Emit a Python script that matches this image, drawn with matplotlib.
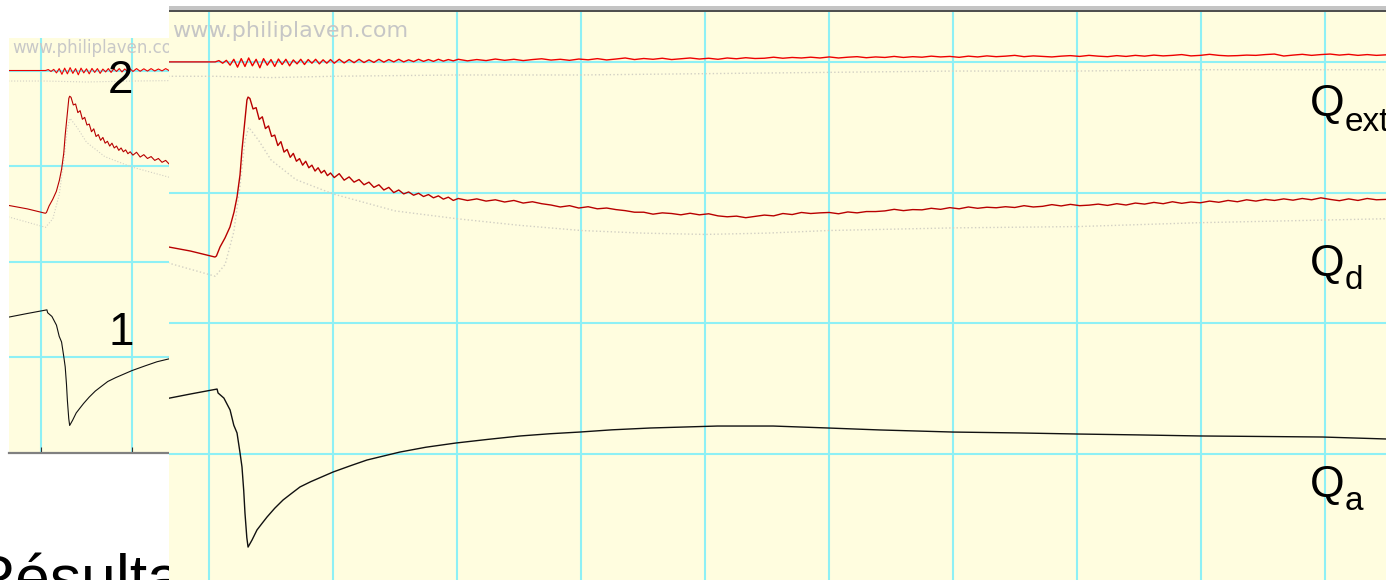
import numpy as np
import matplotlib.pyplot as plt
from matplotlib.patches import Rectangle

plt.rcParams['font.family'] = ['Liberation Sans', 'DejaVu Sans']

# Time axis and signal axis are both in screen divisions
# Q_a (black) trace
qa_x = [-0.36, -0.15, 0.065, 0.073, 0.12, 0.17, 0.20, 0.226, 0.25, 0.266, 0.28,
        0.29, 0.305, 0.315, 0.347, 0.387, 0.43, 0.468, 0.53, 0.597, 0.665, 0.734,
        0.82, 0.91, 1.0, 1.14, 1.274, 1.40, 1.54, 1.75, 1.99, 2.25, 2.51, 2.75,
        2.99, 3.25, 3.56, 3.85, 4.10, 4.55, 4.99, 5.41, 6.0, 6.54, 7.0, 7.5,
        7.99, 8.5, 8.98, 9.49]
qa_y = [0.42, 0.459, 0.497, 0.467, 0.428, 0.337, 0.22, 0.161, 0.01, -0.099, -0.28,
        -0.451, -0.64, -0.712, -0.658, -0.581, -0.528, -0.482, -0.415, -0.352,
        -0.302, -0.252, -0.212, -0.175, -0.138, -0.090, -0.046, -0.017, 0.015,
        0.052, 0.084, 0.112, 0.138, 0.155, 0.168, 0.185, 0.199, 0.207, 0.214,
        0.214, 0.199, 0.184, 0.168, 0.161, 0.153, 0.146, 0.138, 0.134, 0.130, 0.115]

# Q_d (dark red): baseline and rise up to the peak
qd_rise_x = [-0.36, -0.15, 0.048, 0.06, 0.089, 0.129, 0.169, 0.202, 0.226, 0.25,
             0.266, 0.290, 0.306, 0.315]
qd_rise_y = [1.59, 1.553, 1.507, 1.515, 1.584, 1.653, 1.737, 1.852, 1.966, 2.135,
             2.326, 2.556, 2.709, 2.731]
# noisy decay just after the peak, sampled every 0.025 div
qd_peak_y = [2.72, 2.64, 2.65, 2.56, 2.58, 2.49, 2.51, 2.43, 2.44, 2.36,
             2.39, 2.31, 2.33, 2.27, 2.30, 2.24, 2.26, 2.21, 2.24, 2.19,
             2.21, 2.165, 2.19, 2.15, 2.17, 2.13, 2.15]
# rest of the decay, sampled every 0.04 div
qd_decay_y = [2.115, 2.145, 2.095, 2.12, 2.08, 2.10, 2.06, 2.08, 2.04, 2.06,
              2.02, 2.04, 2.00, 2.02, 1.99, 2.005, 1.98, 1.995, 1.97, 1.985,
              1.96, 1.975, 1.95, 1.965, 1.94]
# slow part, sampled every 0.075 div
qd_slow_y = [1.955, 1.94, 1.952, 1.935, 1.945, 1.928, 1.94, 1.92, 1.93, 1.915,
             1.905, 1.89, 1.9, 1.882, 1.892, 1.876, 1.882, 1.87, 1.862, 1.85,
             1.85, 1.835, 1.845, 1.84, 1.83, 1.842, 1.83, 1.838, 1.822, 1.815,
             1.82, 1.808, 1.818, 1.828, 1.822, 1.84, 1.832, 1.848, 1.84, 1.845,
             1.848, 1.838, 1.852, 1.845, 1.855, 1.855, 1.86, 1.872, 1.862, 1.87,
             1.868, 1.88, 1.872, 1.885, 1.876, 1.89, 1.88, 1.888, 1.884, 1.892,
             1.886, 1.9, 1.89, 1.895, 1.908, 1.898, 1.91, 1.9, 1.904, 1.912,
             1.902, 1.915, 1.905, 1.92, 1.912, 1.925, 1.915, 1.93, 1.918, 1.928,
             1.922, 1.935, 1.926, 1.94, 1.93, 1.945, 1.935, 1.948, 1.94, 1.952,
             1.942, 1.955, 1.945, 1.96, 1.948, 1.938, 1.952, 1.94, 1.955, 1.945, 1.948]

# Q_ext (bright red)
qext_flat_x = [-0.36, 0.03]
qext_flat_y = [3.0, 3.0]
qext_burst_y = [3.0, 3.01, 2.99, 3.012, 2.975, 3.02, 2.96, 3.025, 2.965, 3.03,
                2.97, 3.02, 2.955, 3.025, 2.975, 3.018, 2.965, 3.022, 2.98, 3.02,
                2.97, 3.015, 2.985, 3.02, 2.98, 3.018, 2.99, 3.02, 2.985, 3.016,
                2.99, 3.018]
qext_fast_y = [2.99, 3.02, 2.992, 3.018, 2.994, 3.02, 2.995, 3.016, 2.996, 3.02,
               2.998, 3.018, 3.0, 3.02, 3.0, 3.016, 3.002, 3.02, 3.004, 3.018,
               3.004, 3.02, 3.006, 3.018, 3.008]
qext_slow_y = [3.02, 3.008, 3.018, 3.01, 3.022, 3.012, 3.02, 3.01, 3.018, 3.024,
               3.014, 3.02, 3.012, 3.022, 3.016, 3.025, 3.015, 3.022, 3.03, 3.018,
               3.026, 3.02, 3.028, 3.018, 3.024, 3.03, 3.022, 3.028, 3.02, 3.03,
               3.024, 3.032, 3.026, 3.028, 3.036, 3.028, 3.034, 3.03, 3.036, 3.03,
               3.038, 3.03, 3.036, 3.04, 3.032, 3.038, 3.034, 3.042, 3.034, 3.04,
               3.036, 3.044, 3.038, 3.042, 3.035, 3.044, 3.038, 3.046, 3.04, 3.044,
               3.05, 3.04, 3.046, 3.042, 3.038, 3.044, 3.048, 3.042, 3.05, 3.044,
               3.04, 3.048, 3.042, 3.05, 3.044, 3.052, 3.046, 3.05, 3.056, 3.046,
               3.05, 3.058, 3.05, 3.046, 3.048, 3.052, 3.05, 3.056, 3.06, 3.045,
               3.052, 3.058, 3.05, 3.056, 3.06, 3.052, 3.058, 3.05, 3.056, 3.05, 3.054]

# faint traces of the previous sweep
ghost_ext_x = [-0.36, 0.05, 0.5, 1.0, 2.0, 3.0, 4.0, 5.0, 6.0, 7.0, 8.0, 9.49]
ghost_ext_y = [2.89, 2.89, 2.88, 2.89, 2.9, 2.9, 2.91, 2.92, 2.93, 2.93, 2.94, 2.94]
ghost_d_x = [-0.36, 0.05, 0.13, 0.2, 0.25, 0.29, 0.32, 0.4, 0.5, 0.7, 1.0, 1.5,
             2.0, 2.5, 3.0, 3.5, 4.0, 4.5, 5.0, 6.0, 7.0, 8.0, 9.49]
ghost_d_y = [1.47, 1.36, 1.45, 1.7, 2.05, 2.40, 2.50, 2.40, 2.25, 2.10, 1.99, 1.86,
             1.80, 1.75, 1.71, 1.69, 1.68, 1.69, 1.71, 1.73, 1.74, 1.77, 1.80]

qd_x = np.concatenate([qd_rise_x,
                       np.linspace(0.33, 0.98, len(qd_peak_y)),
                       np.linspace(1.01, 1.97, len(qd_decay_y)),
                       np.linspace(2.01, 9.49, len(qd_slow_y))])
qd_y = np.concatenate([qd_rise_y, qd_peak_y, qd_decay_y, qd_slow_y])
qext_x = np.concatenate([qext_flat_x,
                         np.linspace(0.05, 0.98, len(qext_burst_y)),
                         np.linspace(1.01, 1.97, len(qext_fast_y)),
                         np.linspace(2.01, 9.49, len(qext_slow_y))])
qext_y = np.concatenate([qext_flat_y, qext_burst_y, qext_fast_y, qext_slow_y])

W, H = 1386, 580
SCREEN = '#fffddf'
GRID = '#8ef0f5'

fig = plt.figure(figsize=(W / 100, H / 100), dpi=100)


def px_rect(left, top, right, bottom):
    return [left / W, 1 - bottom / H, (right - left) / W, (bottom - top) / H]


def fxy(px, py):
    return px / W, 1 - py / H


def draw_screen(ax, lw):
    ax.set_facecolor(SCREEN)
    ax.plot(ghost_ext_x, ghost_ext_y, color='#d2d0c4', lw=lw, ls=':')
    ax.plot(ghost_d_x, ghost_d_y, color='#d2d0c4', lw=lw, ls=':')
    ax.plot(qext_x, qext_y, color='#ee0000', lw=lw)
    ax.plot(qd_x, qd_y, color='#b80000', lw=lw)
    ax.plot(qa_x, qa_y, color='#111111', lw=lw)
    ax.set_xticks(np.arange(0, 10))
    ax.set_yticks([0, 1, 2, 3])
    ax.grid(color=GRID, lw=1.5)
    ax.set_axisbelow(True)
    ax.tick_params(labelbottom=False, labelleft=False, left=False)
    for s in ('top', 'right', 'left'):
        ax.spines[s].set_visible(False)


# smaller screen behind
ax_back = fig.add_axes(px_rect(9, 38, 314, 453))
draw_screen(ax_back, 0.8)
ax_back.set_xlim(-0.3516, 3.0)
ax_back.set_ylim(-1.0, 3.34)
ax_back.spines['bottom'].set_color('#808080')
ax_back.spines['bottom'].set_linewidth(1.6)
ax_back.tick_params(axis='x', direction='in', length=4, color='#333333')
ax_back.text(*fxy(12, 53), 'www.philiplaven.com', transform=fig.transFigure,
             fontsize=12, color='#c8c8c8', family='DejaVu Sans')
ax_back.text(*fxy(108, 93), '2', transform=fig.transFigure, fontsize=33)
ax_back.text(*fxy(108, 345), '1', transform=fig.transFigure, fontsize=33)

# large screen in front
ax_front = fig.add_axes(px_rect(169, 12, 1386, 580))
draw_screen(ax_front, 1.0)
ax_front.set_xlim(-0.3226, 9.4919)
ax_front.set_ylim(-0.964, 3.3818)
ax_front.spines['bottom'].set_visible(False)
ax_front.tick_params(bottom=False)
ax_front.text(*fxy(172, 37), 'www.philiplaven.com', transform=fig.transFigure,
              fontsize=16, color='#c6c6c6', family='DejaVu Sans')

# window frame above the front screen
fig.add_artist(Rectangle(fxy(169, 10), (W - 169) / W, 4 / H,
                         transform=fig.transFigure, color='#c4c4c4', lw=0))
fig.add_artist(Rectangle(fxy(169, 12), (W - 169) / W, 2 / H,
                         transform=fig.transFigure, color='#505050', lw=0))

# trace names
for name, q_base, sub_base in [('ext', 116, 131), ('d', 276, 289), ('a', 497, 510)]:
    fig.text(*fxy(1310, q_base), 'Q', fontsize=32)
    fig.text(*fxy(1345, sub_base), name, fontsize=24)

# slide heading partly hidden under the screen
fig.text(*fxy(-29, 599), 'Résultats', fontsize=45, zorder=-1)

fig.savefig('out.png', dpi=100)
